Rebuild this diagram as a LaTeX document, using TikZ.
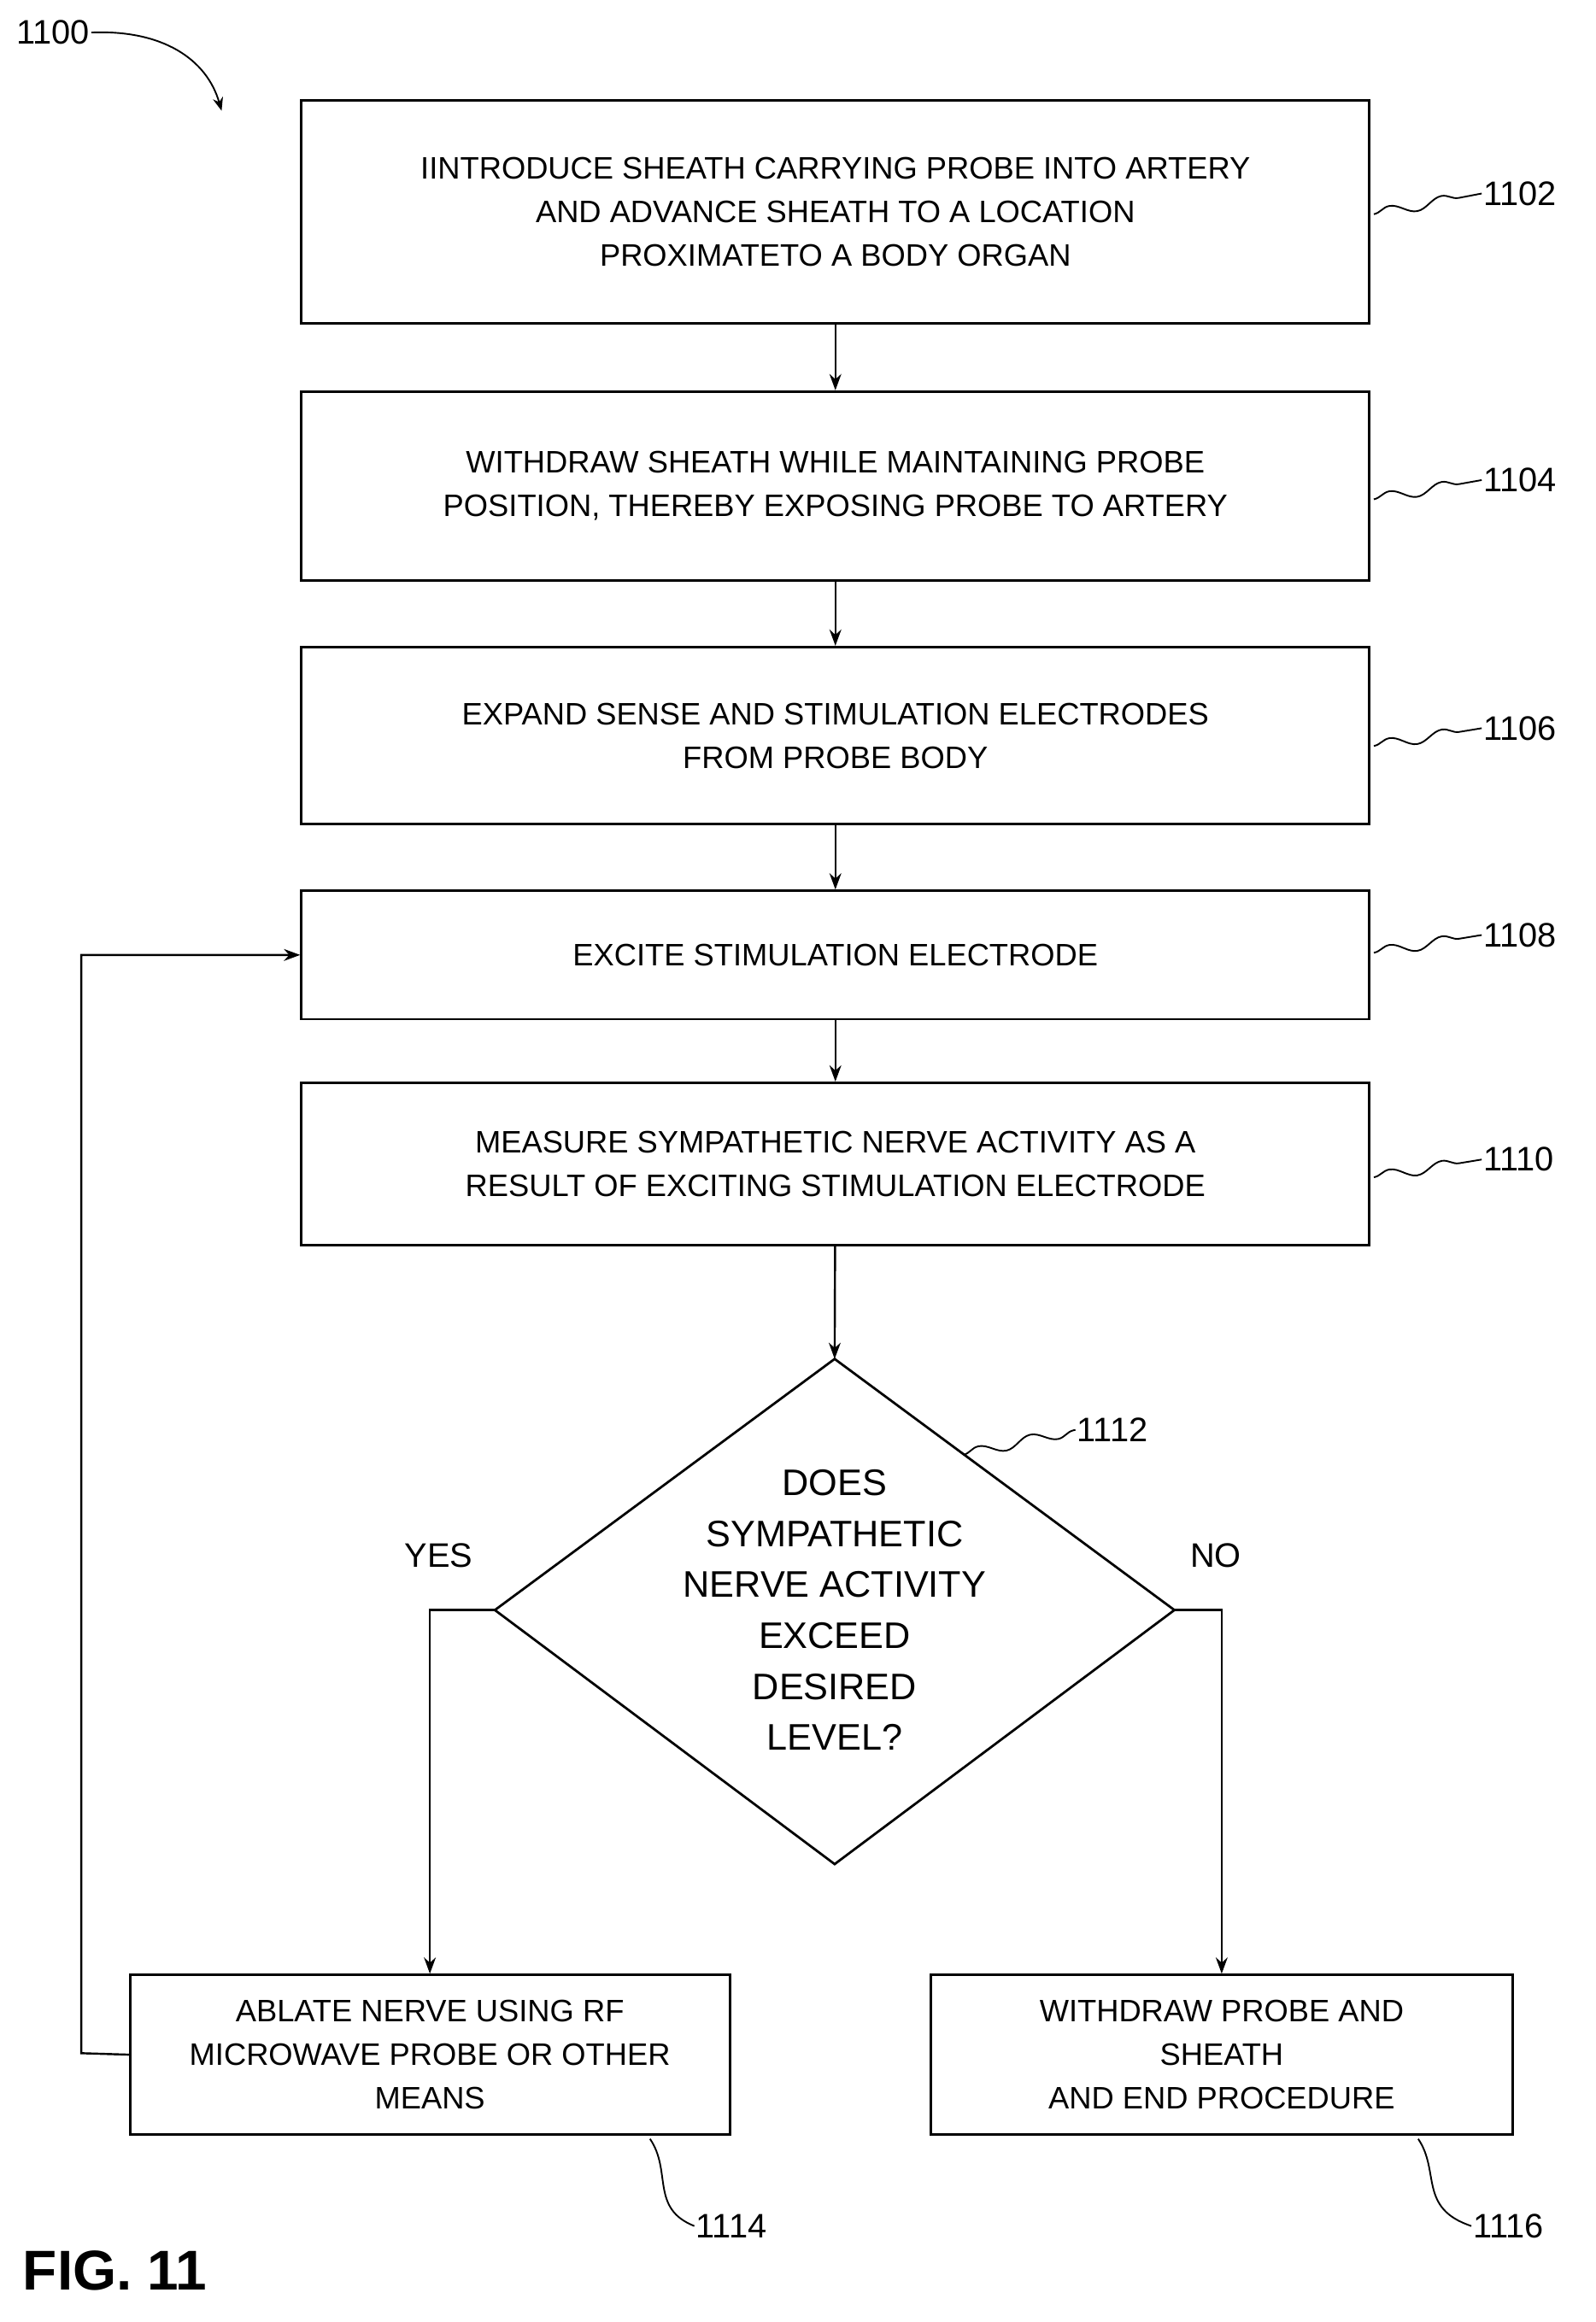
\documentclass[tikz,border=0pt]{standalone}
\usepackage{fontspec}
\setmainfont{Liberation Sans}
\usetikzlibrary{shapes.geometric,arrows.meta,decorations.pathmorphing}
\begin{document}
\begin{tikzpicture}[x=1pt,y=-1pt,
  box/.style={draw,line width=1.6pt,align=center,font=\fontsize{21}{29.5}\selectfont,inner sep=0pt},
  arr/.style={line width=1.4pt,-{Stealth[length=11pt,width=8pt]}},
  lbl/.style={font=\fontsize{23}{26}\selectfont,inner sep=1pt},
  sq/.style={line width=1.1pt,decorate,decoration={snake,amplitude=3.5pt,segment length=36pt}}]
\useasboundingbox (0,0) rectangle (1080,1572);
\node[box,minimum width=723pt,minimum height=151pt] (b1) at (565.5,143.5) {IINTRODUCE SHEATH CARRYING PROBE INTO ARTERY\\AND ADVANCE SHEATH TO A LOCATION\\PROXIMATETO A BODY ORGAN};
\node[box,minimum width=723pt,minimum height=128pt] (b2) at (565.5,329) {WITHDRAW SHEATH WHILE MAINTAINING PROBE\\POSITION, THEREBY EXPOSING PROBE TO ARTERY};
\node[box,minimum width=723pt,minimum height=120pt] (b3) at (565.5,498) {EXPAND SENSE AND STIMULATION ELECTRODES\\FROM PROBE BODY};
\node[box,minimum width=723pt,minimum height=87pt] (b4) at (565.5,646.5) {EXCITE STIMULATION ELECTRODE};
\node[box,minimum width=723pt,minimum height=110pt] (b5) at (565.5,788) {MEASURE SYMPATHETIC NERVE ACTIVITY AS A\\RESULT OF EXCITING STIMULATION ELECTRODE};
\coordinate (dt) at (565,920); \coordinate (dl) at (335,1090);
\coordinate (dr) at (795,1090); \coordinate (db) at (565,1262);
\draw[line width=1.6pt] (dt)--(dr)--(db)--(dl)--cycle;
\node[align=center,font=\fontsize{25}{34.5}\selectfont] (dtext) at (565,1090) {DOES\\SYMPATHETIC\\NERVE ACTIVITY\\EXCEED\\DESIRED\\LEVEL?};
\node[box,minimum width=406pt,minimum height=108pt] (b14) at (291,1391) {ABLATE NERVE USING RF\\MICROWAVE PROBE OR OTHER\\MEANS};
\node[box,minimum width=394pt,minimum height=108pt] (b16) at (827,1391) {WITHDRAW PROBE AND\\SHEATH\\AND END PROCEDURE};
\draw[arr] (b1)--(b2); \draw[arr] (b2)--(b3); \draw[arr] (b3)--(b4); \draw[arr] (b4)--(b5);
\draw[arr] (b5)--(dt);
\draw[arr] (dl)-|(b14.north);
\draw[arr] (dr)-|(b16.north);
\coordinate (fb) at (55,1390);
\draw[arr] (b14.west)--(fb)|-(b4.west);
\node[lbl] (yes) at (297,1053) {YES};
\node[lbl] (no) at (823,1053) {NO};
\node[lbl,anchor=west] (l1102) at (1003,131) {1102};
\node[lbl,anchor=west] (l1104) at (1003,325) {1104};
\node[lbl,anchor=west] (l1106) at (1003,493) {1106};
\node[lbl,anchor=west] (l1108) at (1003,633) {1108};
\node[lbl,anchor=west] (l1110) at (1003,785) {1110};
\node[lbl,anchor=west] (l1112) at (728,968) {1112};
\node[lbl,anchor=west] (l1114) at (470,1507) {1114};
\node[lbl,anchor=west] (l1116) at (996,1507) {1116};
\node[lbl,anchor=west] (l1100) at (10,22) {1100};
\draw[sq] (930,145)--(l1102.west);
\draw[sq] (930,338)--(l1104.west);
\draw[sq] (930,505)--(l1106.west);
\draw[sq] (930,645)--(l1108.west);
\draw[sq] (930,797)--(l1110.west);
\draw[sq] (652,985)--(l1112.west);
\draw[line width=1.1pt] (440,1448) .. controls (455,1470) and (440,1495) .. (l1114.west);
\draw[line width=1.1pt] (960,1448) .. controls (975,1470) and (960,1495) .. (l1116.west);
\coordinate (a1100) at (150,75);
\draw[line width=1.1pt,-{Stealth[length=9pt,width=7pt]}] (l1100.east) .. controls (110,20) and (140,40) .. (a1100);
\node[font=\bfseries\fontsize{38}{40}\selectfont,anchor=west] (fig) at (12,1537) {FIG. 11};
\end{tikzpicture}
\end{document}
